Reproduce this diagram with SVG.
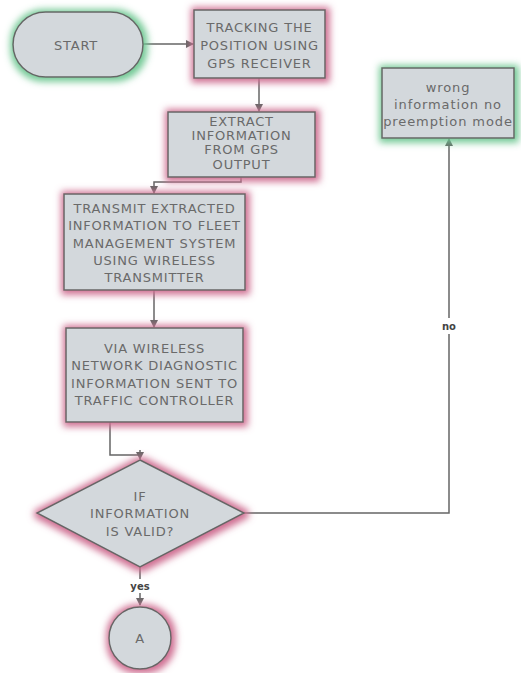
<svg xmlns="http://www.w3.org/2000/svg" width="521" height="673" viewBox="0 0 521 673">
<defs>
<filter id="pink" x="-30%" y="-30%" width="160%" height="160%">
<feMorphology in="SourceAlpha" operator="dilate" radius="3" result="d"/>
<feGaussianBlur in="d" stdDeviation="3.5" result="b"/>
<feFlood flood-color="#cf6f92" flood-opacity="1"/>
<feComposite in2="b" operator="in" result="g"/>
<feOffset in="g" dx="1" dy="1" result="o"/>
<feMerge><feMergeNode in="o"/><feMergeNode in="SourceGraphic"/></feMerge>
</filter>
<filter id="green" x="-30%" y="-30%" width="160%" height="160%">
<feMorphology in="SourceAlpha" operator="dilate" radius="3" result="d"/>
<feGaussianBlur in="d" stdDeviation="3.5" result="b"/>
<feFlood flood-color="#6cc690" flood-opacity="0.95"/>
<feComposite in2="b" operator="in" result="g"/>
<feOffset in="g" dx="1" dy="1" result="o"/>
<feMerge><feMergeNode in="o"/><feMergeNode in="SourceGraphic"/></feMerge>
</filter>
<marker id="arr" markerWidth="8" markerHeight="8" refX="7" refY="4" orient="auto" markerUnits="userSpaceOnUse">
<path d="M0,0 L8,4 L0,8 Z" fill="#666"/>
</marker>
</defs>
<style>
.shape{fill:#d3d8dc;stroke:#666;stroke-width:1.5}
.t{font-family:"DejaVu Sans",Verdana,sans-serif;font-size:13px;fill:#6a6a6a;text-anchor:middle;dominant-baseline:central;letter-spacing:0.8px}
.w{letter-spacing:0.9px}
.lbl{font-family:"DejaVu Sans",Verdana,sans-serif;font-size:10px;fill:#444;text-anchor:middle;dominant-baseline:central;font-weight:bold}
.c{fill:none;stroke:#666;stroke-width:1.5}
</style>
<g id="connectors">
<path class="c" d="M143,44 L193,44" marker-end="url(#arr)"/>
<path class="c" d="M259,78 L259,111" marker-end="url(#arr)"/>
<path class="c" d="M241,177 L241,182 L154,182 L154,193" marker-end="url(#arr)"/>
<path class="c" d="M154,290 L154,327" marker-end="url(#arr)"/>
<path class="c" d="M110,422 L110,455 L140,455" />
<path class="c" d="M140,450 L140,459" marker-end="url(#arr)"/>
<path class="c" d="M244,513 L449,513 L449,139" marker-end="url(#arr)"/>
<path class="c" d="M140,567 L140,605" marker-end="url(#arr)"/>
<rect x="436" y="318" width="26" height="16" fill="#fff"/>
<text class="lbl" x="449" y="326">no</text>
<rect x="128" y="579" width="24" height="14" fill="#fff"/>
<text class="lbl" x="140" y="586">yes</text>
</g>
<g id="start">
<rect class="shape" x="13" y="12" width="130" height="65" rx="32.5" filter="url(#green)"/>
<text class="t" x="76" y="45">START</text>
</g>
<g id="tracking">
<rect class="shape" x="194" y="10" width="131" height="68" filter="url(#pink)"/>
<text class="t" x="259.5" y="27">TRACKING THE</text>
<text class="t" x="259.5" y="45">POSITION USING</text>
<text class="t" x="259.5" y="63">GPS RECEIVER</text>
</g>
<g id="extract">
<rect class="shape" x="168" y="112" width="147" height="65" filter="url(#pink)"/>
<text class="t" x="241.5" y="121">EXTRACT</text>
<text class="t" x="241.5" y="135">INFORMATION</text>
<text class="t" x="241.5" y="149">FROM GPS</text>
<text class="t" x="241.5" y="164">OUTPUT</text>
</g>
<g id="transmit">
<rect class="shape" x="64" y="194" width="181" height="96" filter="url(#pink)"/>
<text class="t" x="154.5" y="208">TRANSMIT EXTRACTED</text>
<text class="t" x="154.5" y="225">INFORMATION TO FLEET</text>
<text class="t" x="154.5" y="243">MANAGEMENT SYSTEM</text>
<text class="t" x="154.5" y="260">USING WIRELESS</text>
<text class="t" x="154.5" y="277">TRANSMITTER</text>
</g>
<g id="via">
<rect class="shape" x="66" y="328" width="177" height="94" filter="url(#pink)"/>
<text class="t" x="154.5" y="348">VIA WIRELESS</text>
<text class="t" x="154.5" y="365">NETWORK DIAGNOSTIC</text>
<text class="t" x="154.5" y="383">INFORMATION SENT TO</text>
<text class="t" x="154.5" y="400">TRAFFIC CONTROLLER</text>
</g>
<g id="decision">
<polygon class="shape" points="140,460 244,513 140,567 37,513" filter="url(#pink)"/>
<text class="t" x="140" y="496">IF</text>
<text class="t" x="140" y="513">INFORMATION</text>
<text class="t" x="140" y="531">IS VALID?</text>
</g>
<g id="wrong">
<rect class="shape" x="382" y="68" width="132" height="70" filter="url(#green)"/>
<text class="t w" x="448" y="87">wrong</text>
<text class="t w" x="448" y="104">information no</text>
<text class="t w" x="448" y="121">preemption mode</text>
</g>
<g id="connector-a">
<circle class="shape" cx="140" cy="638" r="31" filter="url(#pink)"/>
<text class="t" x="140" y="638">A</text>
</g>
</svg>
